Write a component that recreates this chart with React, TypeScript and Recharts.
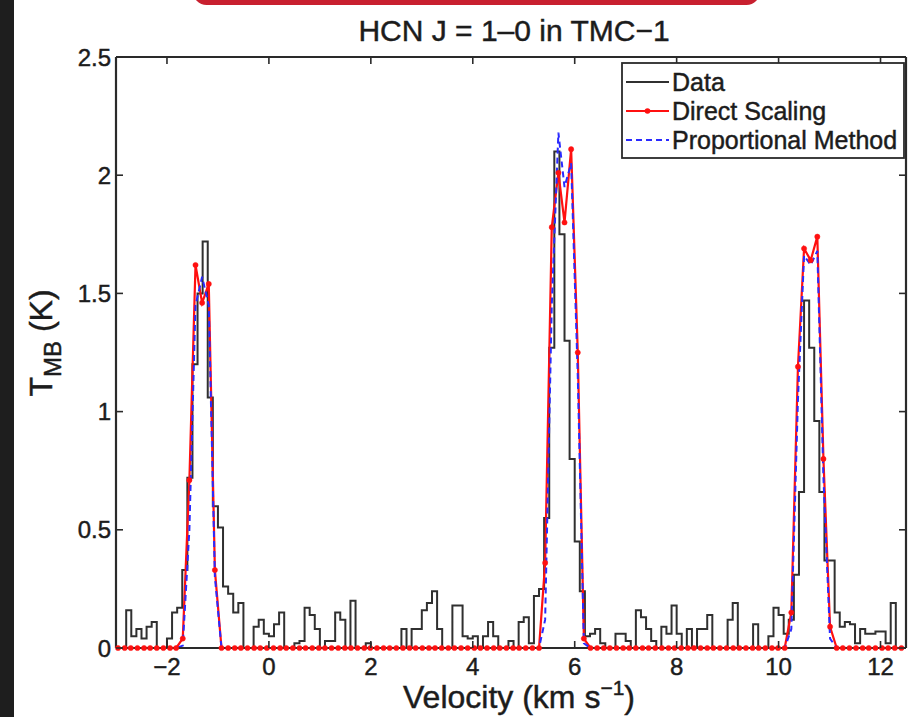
import React from 'react';
import { ComposedChart, Line, XAxis, YAxis, ReferenceLine } from 'recharts';

// ---- Observed spectrum (channel velocities, km/s) ----
const dataVelocity = [
  -2.95, -2.85, -2.75, -2.65, -2.55, -2.45, -2.35, -2.25, -2.15, -2.05,
  -1.95, -1.85, -1.75, -1.65, -1.55, -1.45, -1.35, -1.25, -1.15, -1.05,
  -0.95, -0.85, -0.75, -0.65, -0.55, -0.45, -0.35, -0.25, -0.15, -0.05,
  0.05, 0.15, 0.25, 0.35, 0.45, 0.55, 0.65, 0.75, 0.85, 0.95,
  1.05, 1.15, 1.25, 1.35, 1.45, 1.55, 1.65, 1.75, 1.85, 1.95,
  2.05, 2.15, 2.25, 2.35, 2.45, 2.55, 2.65, 2.75, 2.85, 2.95,
  3.05, 3.15, 3.25, 3.35, 3.45, 3.55, 3.65, 3.75, 3.85, 3.95,
  4.05, 4.15, 4.25, 4.35, 4.45, 4.55, 4.65, 4.75, 4.85, 4.95,
  5.05, 5.15, 5.25, 5.35, 5.45, 5.55, 5.65, 5.75, 5.85, 5.95,
  6.05, 6.15, 6.25, 6.35, 6.45, 6.55, 6.65, 6.75, 6.85, 6.95,
  7.05, 7.15, 7.25, 7.35, 7.45, 7.55, 7.65, 7.75, 7.85, 7.95,
  8.05, 8.15, 8.25, 8.35, 8.45, 8.55, 8.65, 8.75, 8.85, 8.95,
  9.05, 9.15, 9.25, 9.35, 9.45, 9.55, 9.65, 9.75, 9.85, 9.95,
  10.05, 10.15, 10.25, 10.35, 10.45, 10.55, 10.65, 10.75, 10.85, 10.95,
  11.05, 11.15, 11.25, 11.35, 11.45, 11.55, 11.65, 11.75, 11.85, 11.95,
  12.05, 12.15, 12.25, 12.35, 12.45,
];
const dataTmb = [
  0, 0, 0.16, 0.05, 0.08, 0.04, 0.09, 0.11, 0, 0,
  0.04, 0.15, 0.17, 0.33, 0.72, 1.2, 1.5, 1.72, 1.06, 0.6,
  0.51, 0.26, 0.23, 0.15, 0.19, 0, 0, 0.09, 0.12, 0.06,
  0.05, 0.1, 0.15, 0, 0, 0.02, 0.03, 0.17, 0.14, 0.08,
  0, 0.03, 0.03, 0.15, 0.12, 0, 0.2, 0, 0, 0.02,
  0, 0, 0, 0, 0, 0, 0.08, 0, 0.08, 0.08,
  0.16, 0.19, 0.24, 0.08, 0, 0, 0.18, 0.18, 0.05, 0.04,
  0.05, 0, 0.05, 0.11, 0.05, 0, 0, 0.03, 0, 0.11,
  0.13, 0.02, 0.22, 0.25, 0.55, 1.27, 2.1, 1.75, 1.3, 0.8,
  0.45, 0.24, 0.05, 0.06, 0.08, 0.02, 0, 0, 0.06, 0.06,
  0.03, 0, 0.16, 0.13, 0.08, 0.03, 0, 0.09, 0.06, 0.18,
  0.06, 0, 0.08, 0, 0.08, 0.08, 0.14, 0, 0, 0,
  0.12, 0.19, 0, 0, 0, 0.1, 0, 0, 0.05, 0.17,
  0.14, 0.06, 0.12, 0.31, 0.66, 1.47, 1.27, 0.96, 0.66, 0.37,
  0.37, 0.15, 0.09, 0.11, 0.1, 0.02, 0.08, 0.06, 0.06, 0.07,
  0.07, 0.02, 0.19, 0, 0,
];

// ---- Model channels (km/s) ----
const modelVelocity = [
  -2.96, -2.83, -2.71, -2.58, -2.45, -2.33, -2.2, -2.07, -1.94, -1.82,
  -1.69, -1.56, -1.44, -1.31, -1.18, -1.06, -0.93, -0.8, -0.67, -0.55,
  -0.42, -0.29, -0.17, -0.04, 0.09, 0.22, 0.34, 0.47, 0.6, 0.72,
  0.85, 0.98, 1.1, 1.23, 1.36, 1.49, 1.61, 1.74, 1.87, 1.99,
  2.12, 2.25, 2.37, 2.5, 2.63, 2.76, 2.88, 3.01, 3.14, 3.26,
  3.39, 3.52, 3.64, 3.77, 3.9, 4.03, 4.15, 4.28, 4.41, 4.53,
  4.66, 4.79, 4.91, 5.04, 5.17, 5.3, 5.42, 5.55, 5.68, 5.8,
  5.93, 6.06, 6.18, 6.31, 6.44, 6.57, 6.69, 6.82, 6.95, 7.07,
  7.2, 7.33, 7.45, 7.58, 7.71, 7.84, 7.96, 8.09, 8.22, 8.34,
  8.47, 8.6, 8.72, 8.85, 8.98, 9.11, 9.23, 9.36, 9.49, 9.61,
  9.74, 9.87, 9.99, 10.12, 10.25, 10.38, 10.5, 10.63, 10.76, 10.88,
  11.01, 11.14, 11.26, 11.39, 11.52, 11.65, 11.77, 11.9, 12.03, 12.15,
  12.28, 12.41,
];
const directScaling = [
  0, 0, 0, 0, 0, 0, 0, 0, 0, 0,
  0.04, 0.71, 1.62, 1.46, 1.54, 0.33, 0, 0, 0, 0,
  0, 0, 0, 0, 0, 0, 0, 0, 0, 0,
  0, 0, 0, 0, 0, 0, 0, 0, 0, 0,
  0, 0, 0, 0, 0, 0, 0, 0, 0, 0,
  0, 0, 0, 0, 0, 0, 0, 0, 0, 0,
  0, 0, 0, 0, 0, 0, 0.36, 1.78, 2.01, 1.8,
  2.11, 1.25, 0.04, 0, 0, 0, 0, 0, 0, 0,
  0, 0, 0, 0, 0, 0, 0, 0, 0, 0,
  0, 0, 0, 0, 0, 0, 0, 0, 0, 0,
  0, 0, 0, 0, 0.15, 1.19, 1.69, 1.64, 1.74, 0.8,
  0.09, 0, 0, 0, 0, 0, 0, 0, 0, 0,
  0, 0,
];
const proportional = [
  0, 0, 0, 0, 0, 0, 0, 0, 0, 0,
  0.01, 0.5, 1.45, 1.57, 1.45, 0.3, 0, 0, 0, 0,
  0, 0, 0, 0, 0, 0, 0, 0, 0, 0,
  0, 0, 0, 0, 0, 0, 0, 0, 0, 0,
  0, 0, 0, 0, 0, 0, 0, 0, 0, 0,
  0, 0, 0, 0, 0, 0, 0, 0, 0, 0,
  0, 0, 0, 0, 0, 0, 0.12, 1.45, 2.18, 1.95,
  2.05, 1.15, 0.02, 0, 0, 0, 0, 0, 0, 0,
  0, 0, 0, 0, 0, 0, 0, 0, 0, 0,
  0, 0, 0, 0, 0, 0, 0, 0, 0, 0,
  0, 0, 0, 0, 0.08, 1.05, 1.66, 1.62, 1.68, 0.72,
  0.04, 0, 0, 0, 0, 0, 0, 0, 0, 0,
  0, 0,
];

const xTicks = [-2, 0, 2, 4, 6, 8, 10, 12];
const yTicks = [0, 0.5, 1, 1.5, 2, 2.5];
const xDomain = [-3, 12.5];
const yDomain = [0, 2.5];

const seriesNames = ['Data', 'Direct Scaling', 'Proportional Method'];
const titleText = 'HCN J = 1\u20130 in TMC\u22121';

const dataSeries = dataVelocity.map((v, i) => ({ v, t: dataTmb[i] }));
const modelSeries = modelVelocity.map((v, i) => ({ v, ds: directScaling[i], pm: proportional[i] }));

// layout
const W = 916;
const H = 717;
const PLOT_LEFT = 116;
const PLOT_RIGHT = 906;
const PLOT_TOP = 57;
const PLOT_BOTTOM = 648;
const FONT = '"Liberation Sans", Arial, Helvetica, sans-serif';
const INK = '#1c1c1c';
const AXIS = '#2a2a2a';
const RED = '#ff1010';
const BLUE = '#2a2aff';
const BLACK_LINE = '#303030';
const TXT_STROKE = 0.45;

const fmtTick = (v: number) => (v < 0 ? '\u2212' + String(-v) : String(v));

function XTick(props: any) {
  const { x, payload } = props;
  return (
    <g>
      <line x1={x} x2={x} y1={PLOT_BOTTOM} y2={PLOT_BOTTOM - 7} stroke={AXIS} strokeWidth={1.6} />
      <line x1={x} x2={x} y1={PLOT_TOP} y2={PLOT_TOP + 7} stroke={AXIS} strokeWidth={1.6} />
      <text
        x={x}
        y={PLOT_BOTTOM + 27}
        textAnchor="middle"
        fontSize={24}
        fill={INK}
        stroke={INK}
        strokeWidth={TXT_STROKE}
        fontFamily={FONT}
      >
        {fmtTick(payload.value)}
      </text>
    </g>
  );
}

function YTick(props: any) {
  const { y, payload } = props;
  return (
    <g>
      <line x1={PLOT_LEFT} x2={PLOT_LEFT + 7} y1={y} y2={y} stroke={AXIS} strokeWidth={1.6} />
      <line x1={PLOT_RIGHT} x2={PLOT_RIGHT - 7} y1={y} y2={y} stroke={AXIS} strokeWidth={1.6} />
      <text
        x={PLOT_LEFT - 5}
        y={y}
        dy="0.36em"
        textAnchor="end"
        fontSize={24}
        fill={INK}
        stroke={INK}
        strokeWidth={TXT_STROKE}
        fontFamily={FONT}
      >
        {fmtTick(payload.value)}
      </text>
    </g>
  );
}

function Overlay() {
  const lx1 = 626;
  const lx2 = 669;
  const tx = 672;
  const rows = [82, 111, 140];
  const textProps = { fill: INK, stroke: INK, strokeWidth: TXT_STROKE, fontFamily: FONT };
  return (
    <svg width={W} height={H} style={{ position: 'absolute', left: 0, top: 0, pointerEvents: 'none' }}>
      <text x={514} y={41} textAnchor="middle" fontSize={30} {...textProps}>
        {titleText}
      </text>
      <text x={519} y={708} textAnchor="middle" fontSize={32} {...textProps}>
        Velocity (km s
        <tspan dy={-13} fontSize={21}>{'\u22121'}</tspan>
        <tspan dy={13}>)</tspan>
      </text>
      <text transform="translate(52,343) rotate(-90)" textAnchor="middle" fontSize={32} {...textProps}>
        T
        <tspan dy={9} fontSize={24}>MB</tspan>
        <tspan dy={-9}> (K)</tspan>
      </text>
      {/* legend */}
      <rect x={622} y={63} width={282} height={95} fill="#fff" stroke={AXIS} strokeWidth={1.8} />
      <line x1={lx1} x2={lx2} y1={rows[0]} y2={rows[0]} stroke={BLACK_LINE} strokeWidth={1.9} />
      <line x1={lx1} x2={lx2} y1={rows[1]} y2={rows[1]} stroke={RED} strokeWidth={1.9} />
      <circle cx={(lx1 + lx2) / 2} cy={rows[1]} r={2.8} fill={RED} />
      <line x1={lx1} x2={lx2} y1={rows[2]} y2={rows[2]} stroke={BLUE} strokeWidth={1.9} strokeDasharray="6 4" />
      {seriesNames.map((n, i) => (
        <text key={n} x={tx} y={rows[i]} dy="0.36em" fontSize={25} {...textProps}>
          {n}
        </text>
      ))}
    </svg>
  );
}

export default function App() {
  return (
    <div style={{ position: 'absolute', left: 0, top: 0, width: W, height: H, background: '#fff', overflow: 'hidden' }}>
      <div style={{ position: 'absolute', left: 0, top: 0, width: 14, height: H, background: '#1e1e1e' }} />
      <div
        style={{
          position: 'absolute',
          left: 193,
          top: -22,
          width: 567,
          height: 27,
          background: '#c8202f',
          borderRadius: 14,
        }}
      />
      <div style={{ position: 'absolute', left: 0, top: 0 }}>
        <ComposedChart width={W} height={H} margin={{ top: 57, right: 10, bottom: 29, left: 16 }}>
          <XAxis
            type="number"
            dataKey="v"
            domain={xDomain}
            ticks={xTicks}
            interval={0}
            height={40}
            tick={<XTick />}
            tickLine={false}
            axisLine={{ stroke: AXIS, strokeWidth: 2.2 }}
          />
          <YAxis
            type="number"
            domain={yDomain}
            ticks={yTicks}
            interval={0}
            width={100}
            tick={<YTick />}
            tickLine={false}
            axisLine={{ stroke: AXIS, strokeWidth: 2.2 }}
          />
          <ReferenceLine y={2.5} stroke={AXIS} strokeWidth={2.2} />
          <ReferenceLine x={12.5} stroke={AXIS} strokeWidth={2.2} />
          <Line
            data={dataSeries}
            dataKey="t"
            type="step"
            stroke={BLACK_LINE}
            strokeWidth={2}
            dot={false}
            isAnimationActive={false}
          />
          <Line
            data={modelSeries}
            dataKey="ds"
            type="linear"
            stroke={RED}
            strokeWidth={2.2}
            dot={{ r: 2.6, fill: RED, stroke: RED, strokeWidth: 0.5 }}
            isAnimationActive={false}
          />
          <Line
            data={modelSeries}
            dataKey="pm"
            type="linear"
            stroke={BLUE}
            strokeWidth={2}
            strokeDasharray="6 4"
            dot={false}
            isAnimationActive={false}
          />
        </ComposedChart>
      </div>
      <Overlay />
    </div>
  );
}
